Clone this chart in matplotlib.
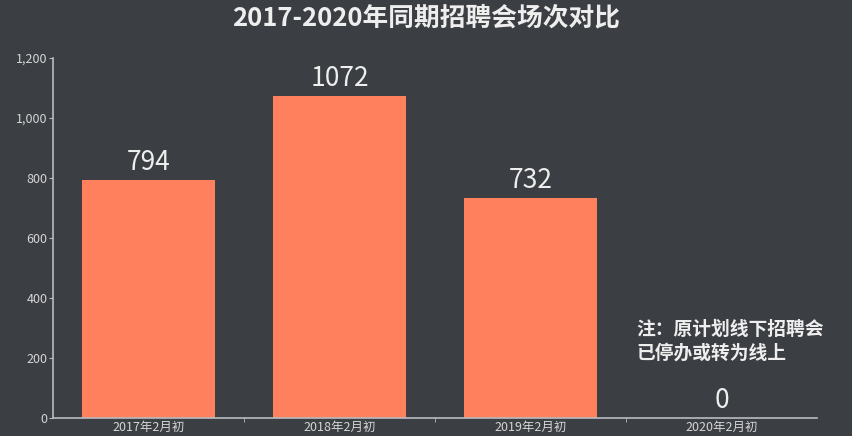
import matplotlib
matplotlib.use("Agg")
from matplotlib import pyplot as plt
from matplotlib.ticker import FuncFormatter, FixedLocator

plt.rcParams['font.family'] = ['Noto Sans CJK SC', 'DejaVu Sans']

# data
categories = ["2017年2月初", "2018年2月初", "2019年2月初", "2020年2月初"]
counts = [794, 1072, 732, 0]
title = "2017-2020年同期招聘会场次对比"
note = "注：原计划线下招聘会\n已停办或转为线上"

bg = "#3b3e42"
bar_color = "#ff805c"
axis_color = "#b9bcbf"
text_color = "#eeeeee"

fig = plt.figure(figsize=(8.53, 4.36), dpi=100, facecolor=bg)
ax = fig.add_axes([0.0621, 0.0413, 0.958 - 0.0621, 0.867 - 0.0413])
ax.set_facecolor(bg)

x = range(len(categories))
bars = ax.bar(x, counts, width=0.7, color=bar_color, zorder=2)

for xi, v in zip(x, counts):
    ax.text(xi, v + 14, str(v), ha="center", va="bottom",
            fontsize=19, color=text_color)

ax.set_xlim(-0.5, len(categories) - 0.5)
ax.set_ylim(0, 1200)
ax.set_yticks(range(0, 1201, 200))
ax.yaxis.set_major_formatter(FuncFormatter(lambda v, p: f"{int(v):,}"))

ax.set_xticks(list(x))
ax.set_xticklabels(categories)
ax.xaxis.set_minor_locator(FixedLocator([i + 0.5 for i in range(len(categories) - 1)]))
ax.tick_params(axis="x", which="major", length=0, pad=2, labelsize=9, colors="#d6d6d6")
ax.tick_params(axis="x", which="minor", length=3, color=axis_color)
ax.tick_params(axis="y", length=3, pad=1, labelsize=9, colors="#d6d6d6", color=axis_color)

for side in ["top", "right"]:
    ax.spines[side].set_visible(False)
for side in ["left", "bottom"]:
    ax.spines[side].set_color(axis_color)
    ax.spines[side].set_linewidth(1.2)

fig.text(0.5, 0.958, title, ha="center", va="center", fontsize=18.5,
         fontweight="bold", color=text_color)
fig.text(0.746, 0.168, note, ha="left", va="bottom", fontsize=13.5,
         fontweight="bold", color=text_color, linespacing=1.35)

fig.savefig("out.png", dpi=100, facecolor=bg)
